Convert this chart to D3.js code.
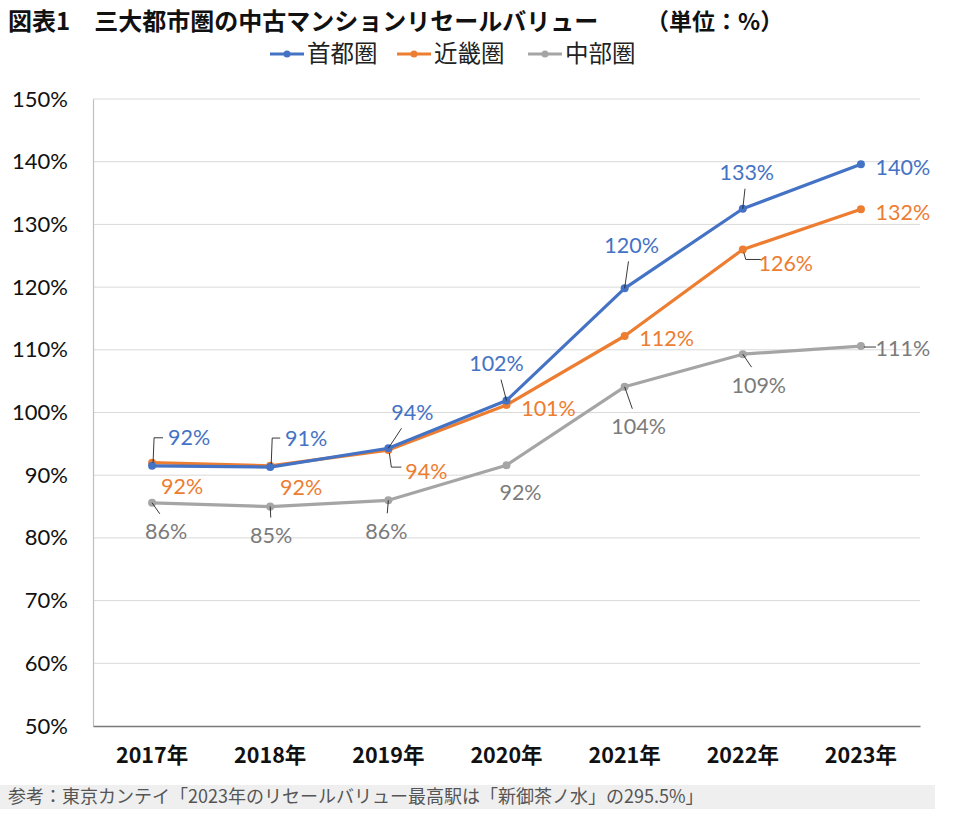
<!DOCTYPE html>
<html>
<head>
<meta charset="utf-8">
<script src="https://cdn.jsdelivr.net/npm/d3@7"></script>
<style>
  html, body { margin: 0; padding: 0; background: #fff; }
  svg { display: block; }
</style>
</head>
<body>
<div id="app"></div>
<script>
'use strict';

// data
var years = ['2017年', '2018年', '2019年', '2020年', '2021年', '2022年', '2023年'];
var seriesNames = ['首都圏', '近畿圏', '中部圏'];
var shutoken = [91.5, 91.3, 94.3, 101.9, 119.8, 132.5, 139.6];
var kinki = [92.0, 91.5, 94.0, 101.2, 112.2, 126.0, 132.4];
var chubu = [85.6, 85.0, 86.0, 91.6, 104.1, 109.3, 110.6];
var yTicks = [50, 60, 70, 80, 90, 100, 110, 120, 130, 140, 150];

var titleText = '図表1　三大都市圏の中古マンションリセールバリュー';
var unitText = '（単位：%）';
var sourceText = '参考：東京カンテイ「2023年のリセールバリュー最高駅は「新御茶ノ水」の295.5%」';

// label placement: label centre offset from the point, and leader type
var labelLayout = [
  [ {dx: 37, dy: -28, lead: 'elbowUp'}, {dx: 36, dy: -29, lead: 'elbowUp'}, {dx: 24, dy: -36, lead: 'diag'},
    {dx: -10, dy: -37, lead: 'diag'}, {dx: 7, dy: -43, lead: 'diag'}, {dx: 4, dy: -36, lead: 'diag'}, {dx: 42, dy: 3} ],
  [ {dx: 30, dy: 24}, {dx: 31, dy: 22}, {dx: 38, dy: 21, lead: 'elbowDown'},
    {dx: 42, dy: 3}, {dx: 42, dy: 2}, {dx: 43, dy: 14, lead: 'elbowDown'}, {dx: 42, dy: 3} ],
  [ {dx: 14, dy: 29, lead: 'diag'}, {dx: 1, dy: 29, lead: 'diag'}, {dx: -2, dy: 31, lead: 'diag'},
    {dx: 14, dy: 27}, {dx: 14, dy: 40, lead: 'diag'}, {dx: 16, dy: 31, lead: 'diag'}, {dx: 42, dy: 2, lead: 'horiz'} ]
];

var colors = ['#4472C4', '#ED7D31', '#A5A5A5'];
var labelColors = ['#4472C4', '#ED7D31', '#7b7b7b'];

var width = 980, height = 813;
var jp = '"Noto Sans CJK JP", "Noto Sans", sans-serif';
var num = 'Lato, "Open Sans", sans-serif';

var svg = d3.select('#app').append('svg')
  .attr('width', width).attr('height', height);

var x = d3.scaleBand().domain(years).range([93, 920]);
var y = d3.scaleLinear().domain([50, 150]).range([726, 99]);

// title
svg.append('text').attr('x', 8).attr('y', 30)
  .attr('font-family', jp).attr('font-weight', 'bold').attr('font-size', 24)
  .attr('fill', '#111').text(titleText);
svg.append('text').attr('x', 646).attr('y', 30)
  .attr('font-family', jp).attr('font-weight', 'bold').attr('font-size', 23)
  .attr('fill', '#111').text(unitText);

// legend
var legendX = [270, 397, 528];
var legend = svg.append('g').selectAll('g').data(seriesNames).enter().append('g')
  .attr('transform', function(d, i) { return 'translate(' + legendX[i] + ',54)'; });
legend.append('line').attr('x1', 0).attr('x2', 34)
  .attr('stroke', function(d, i) { return colors[i]; }).attr('stroke-width', 3);
legend.append('circle').attr('cx', 17).attr('r', 3.5)
  .attr('fill', function(d, i) { return colors[i]; });
legend.append('text').attr('x', 37).attr('dy', '0.35em')
  .attr('font-family', jp).attr('font-size', 23.5).attr('fill', '#222')
  .text(function(d) { return d; });

// grid
svg.append('g').selectAll('line').data(yTicks.slice(1)).enter().append('line')
  .attr('x1', 93).attr('x2', 920)
  .attr('y1', function(d) { return y(d); }).attr('y2', function(d) { return y(d); })
  .attr('stroke', '#d9d9d9').attr('stroke-width', 1);

// y axis
var yAxis = svg.append('g').attr('transform', 'translate(93,0)')
  .call(d3.axisLeft(y).tickValues(yTicks).tickSize(0).tickPadding(25)
    .tickFormat(function(d) { return d + '%'; }));
yAxis.select('.domain').attr('stroke', '#bfbfbf').attr('stroke-width', 1.2);
yAxis.selectAll('text').attr('font-family', num).attr('font-size', 22).attr('fill', '#111');

// x axis
var xAxis = svg.append('g').attr('transform', 'translate(0,726)')
  .call(d3.axisBottom(x).tickSize(0).tickPadding(22));
xAxis.select('.domain').attr('stroke', '#7a7a7a').attr('stroke-width', 1.5);
xAxis.selectAll('text').attr('font-family', jp).attr('font-weight', 'bold')
  .attr('font-size', 21.5).attr('fill', '#111');

// series
var series = [shutoken, kinki, chubu];
var px = function(i) { return x(years[i]) + x.bandwidth() / 2; };
var line = d3.line().x(function(d, i) { return px(i); }).y(function(d) { return y(d); });

var order = [2, 1, 0];
order.forEach(function(s) {
  var vals = series[s];
  svg.append('path').datum(vals).attr('d', line)
    .attr('fill', 'none').attr('stroke', colors[s]).attr('stroke-width', 3.2)
    .attr('stroke-linejoin', 'round');
  svg.append('g').selectAll('circle').data(vals).enter().append('circle')
    .attr('cx', function(d, i) { return px(i); })
    .attr('cy', function(d) { return y(d); })
    .attr('r', 4).attr('fill', colors[s]);
});

// labels and leader lines
series.forEach(function(vals, s) {
  var g = svg.append('g');
  vals.forEach(function(v, i) {
    var L = labelLayout[s][i];
    var cx = px(i), cy = y(v);
    var lx = cx + L.dx, ly = cy + L.dy;
    var path = null;
    if (L.lead === 'elbowUp') {
      path = 'M' + (cx + 1) + ',' + (cy - 3) + 'L' + (cx + 2) + ',' + ly + 'L' + (lx - 26) + ',' + ly;
    } else if (L.lead === 'elbowDown') {
      path = 'M' + (cx + 1) + ',' + (cy + 3) + 'L' + (cx + 3) + ',' + (ly - 4) + 'L' + (lx - 25) + ',' + (ly - 4);
    } else if (L.lead === 'diag') {
      var ex = cx + (L.dx) * 0.55, ey = cy + (L.dy > 0 ? L.dy - 18 : L.dy + 16);
      path = 'M' + cx + ',' + cy + 'L' + ex + ',' + ey;
    } else if (L.lead === 'horiz') {
      path = 'M' + (cx + 3) + ',' + (cy + 1) + 'L' + (lx - 27) + ',' + (cy + 1);
    }
    if (path) {
      g.append('path').attr('d', path).attr('fill', 'none')
        .attr('stroke', '#222').attr('stroke-width', 0.9);
    }
    g.append('text').attr('x', lx).attr('y', ly).attr('dy', '0.35em')
      .attr('text-anchor', 'middle')
      .attr('font-family', num).attr('font-size', 21.5)
      .attr('fill', labelColors[s])
      .text(Math.round(v) + '%');
  });
});

// source note
svg.append('rect').attr('x', 0).attr('y', 785).attr('width', 935).attr('height', 24)
  .attr('fill', '#efefef');
svg.append('text').attr('x', 8).attr('y', 797).attr('dy', '0.35em')
  .attr('font-family', jp).attr('font-size', 18).attr('fill', '#555')
  .text(sourceText);
</script>
</body>
</html>
